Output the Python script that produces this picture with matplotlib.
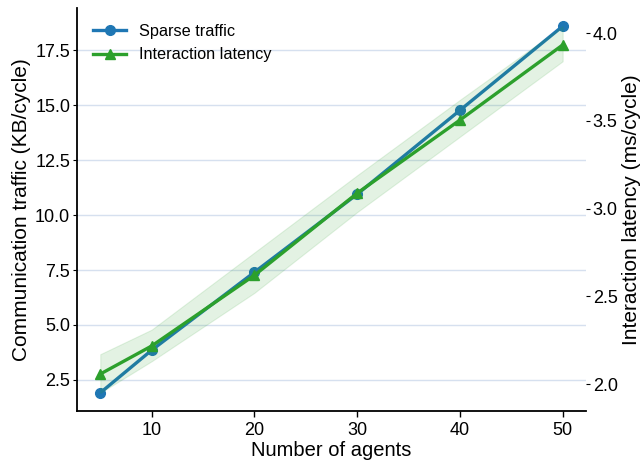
import matplotlib

matplotlib.use("Agg")
import matplotlib.pyplot as plt  # noqa: E402

plt.rcParams["font.family"] = ["Liberation Sans", "DejaVu Sans"]

# data
agents = [5, 10, 20, 30, 40, 50]
traffic = [1.91, 3.85, 7.40, 10.95, 14.77, 18.60]          # KB/cycle
latency = [2.057, 2.217, 2.62, 3.088, 3.505, 3.933]        # ms/cycle
latency_lo = [1.95, 2.13, 2.52, 2.98, 3.41, 3.84]
latency_hi = [2.17, 2.31, 2.75, 3.19, 3.62, 4.04]

fig = plt.figure(figsize=(6.43, 4.63), dpi=100)
ax = fig.add_axes([0.12, 0.112, 0.791, 0.871])
ax2 = ax.twinx()

l1, = ax.plot(agents, traffic, color="#1f77b4", marker="o", markersize=7,
              linewidth=2.4, label="Sparse traffic")
ax2.fill_between(agents, latency_lo, latency_hi, color="#2ca02c", alpha=0.13,
                 linewidth=0.8)
l2, = ax2.plot(agents, latency, color="#2ca02c", marker="^", markersize=7.5,
               linewidth=2.4, label="Interaction latency")

ax.set_xticks([10, 20, 30, 40, 50])
ax.set_yticks([2.5, 5.0, 7.5, 10.0, 12.5, 15.0, 17.5])
ax2.set_yticks([2.0, 2.5, 3.0, 3.5, 4.0])

ax.grid(True, axis="y", color="#d6e0ef", linewidth=1.0)
ax.set_axisbelow(True)

for s in ["top", "right"]:
    ax.spines[s].set_visible(False)
for s in ["top", "right", "left", "bottom"]:
    ax2.spines[s].set_visible(False)
ax.spines["left"].set_linewidth(1.3)
ax.spines["bottom"].set_linewidth(1.3)

ax.tick_params(axis="y", length=3, width=0.8, labelsize=13, pad=2)
ax.tick_params(axis="x", length=4, width=1, labelsize=13)
ax2.tick_params(axis="y", length=3, width=0.8, labelsize=13, pad=2)

ax.set_xlabel("Number of agents", fontsize=14.5, labelpad=2)
ax.set_ylabel("Communication traffic (KB/cycle)", fontsize=15, labelpad=3)
ax2.set_ylabel("Interaction latency (ms/cycle)", fontsize=15, labelpad=3)

ax2.legend([l1, l2], ["Sparse traffic", "Interaction latency"], loc="upper left",
           frameon=False, fontsize=11.7, handlelength=2.0, borderaxespad=0.6)

fig.savefig("out.png", dpi=100)
plt.close(fig)
